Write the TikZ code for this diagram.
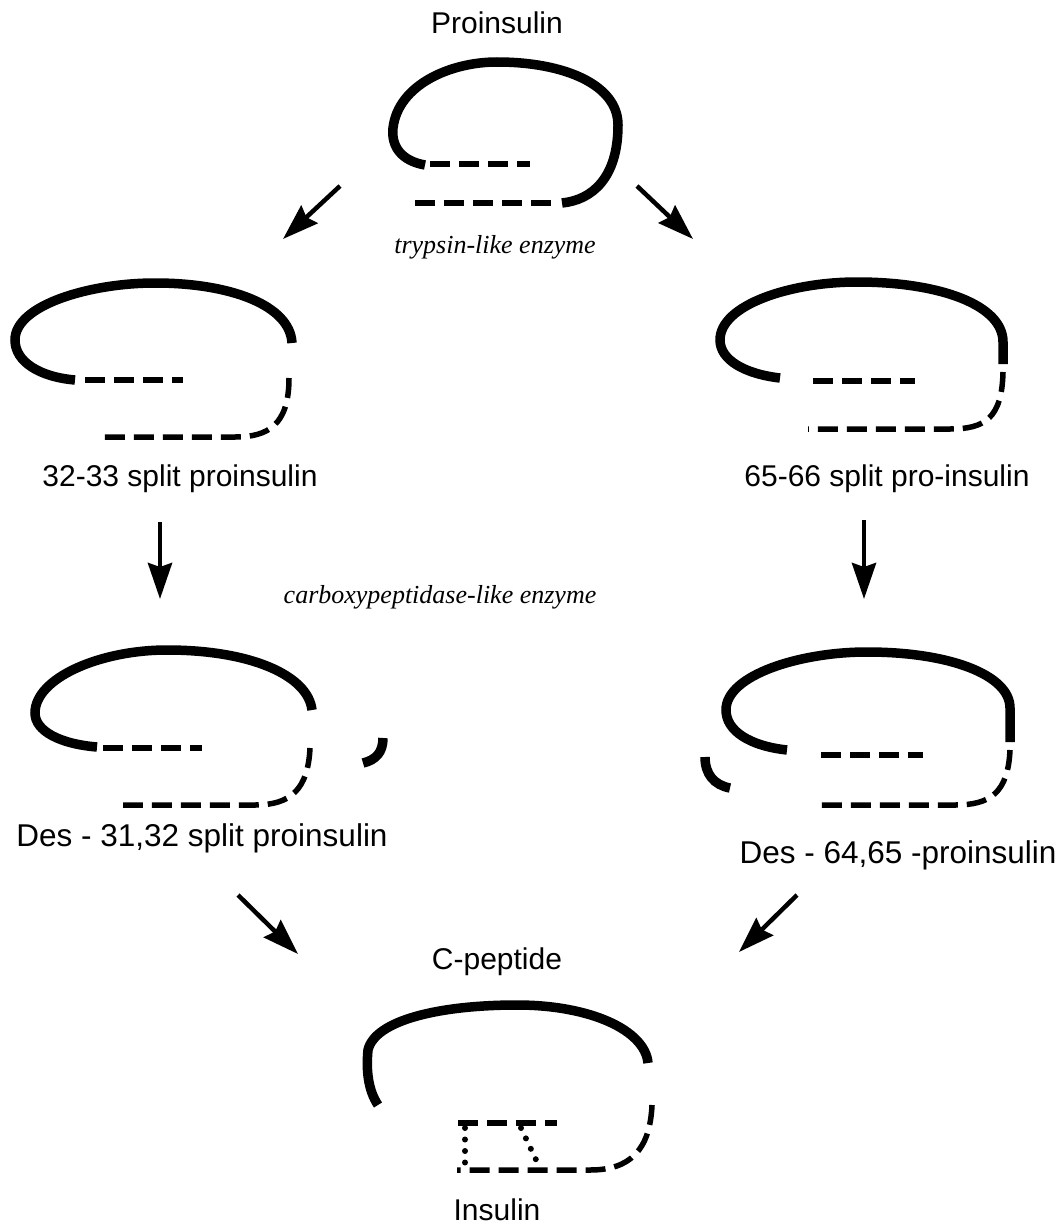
\documentclass[tikz,border=0pt]{standalone}
\usepackage{fontspec}
\setmainfont{Liberation Sans}
\newfontfamily\enzfont{Liberation Serif}
\usetikzlibrary{arrows.meta}
\tikzset{
  chainA/.style={line width=9.5pt, line cap=butt},
  chainB/.style={line width=5.5pt, dash pattern=on 20pt off 9pt},
  fragment/.style={line width=9.5pt, line cap=butt},
  sbond/.style={line width=6pt, line cap=round, dash pattern=on 0pt off 11.5pt},
  flow/.style={line width=4.5pt, -{Stealth[length=36pt,width=24pt,inset=4pt]}},
  lab/.style={font=\fontsize{30}{36}\selectfont, inner sep=0pt},
  deslab/.style={font=\fontsize{31.5}{38}\selectfont, inner sep=0pt},
  enz/.style={font=\enzfont\itshape\fontsize{26}{31}\selectfont, inner sep=0pt}
}
\begin{document}
\begin{tikzpicture}[x=1pt,y=-1pt]
\useasboundingbox (0,0) rectangle (1062,1228);

% labels
\node[lab] (proins) at (497,23) {Proinsulin};
\node[enz] (trypsin) at (495,247) {trypsin-like enzyme};
\node[lab] (split32) at (180,479) {32-33 split proinsulin};
\node[lab] (split65) at (887,479) {65-66 split pro-insulin};
\node[enz] (carboxy) at (440,597) {carboxypeptidase-like enzyme};
\node[deslab] (des31) at (202,838) {Des - 31,32 split proinsulin};
\node[deslab] (des64) at (898,855) {Des - 64,65 -proinsulin};
\node[lab] (cpep) at (497,962) {C-peptide};
\node[lab] (insulin) at (497,1210) {Insulin};

% arrow end points
\coordinate (a1s) at (340,186); \coordinate (a1e) at (283,239);
\coordinate (a2s) at (637,186); \coordinate (a2e) at (693,239);
\coordinate (a3s) at (160,522); \coordinate (a3e) at (160,599);
\coordinate (a4s) at (864,520); \coordinate (a4e) at (864,599);
\coordinate (a5s) at (238,895); \coordinate (a5e) at (298,954);
\coordinate (a6s) at (797,895); \coordinate (a6e) at (739,952);
\draw[flow] (a1s) -- (a1e);
\draw[flow] (a2s) -- (a2e);
\draw[flow] (a3s) -- (a3e);
\draw[flow] (a4s) -- (a4e);
\draw[flow] (a5s) -- (a5e);
\draw[flow] (a6s) -- (a6e);

% --- top: proinsulin
\draw[chainA] (425,165) .. controls (402,161) and (391,147) .. (393,128)
  .. controls (398,85) and (450,62) .. (497,62)
  .. controls (565,62) and (618,85) .. (618,125)
  .. controls (618,178) and (592,200) .. (562,203);
\draw[chainB] (430,164) -- (530,164);
\draw[chainB] (415,203) -- (555,203);

% --- 32-33 split proinsulin
\draw[chainA] (75,380) .. controls (40,377) and (15,362) .. (15,340)
  .. controls (15,305) and (90,283) .. (155,283)
  .. controls (230,283) and (290,305) .. (292,343);
\draw[chainB] (85,380) -- (183,380);
\draw[chainB] (289,378) .. controls (289,425) and (268,437) .. (235,437) -- (103,437);

% --- 65-66 split pro-insulin
\draw[chainA] (780,378) .. controls (745,374) and (720,360) .. (720,340)
  .. controls (720,305) and (790,282) .. (857,282)
  .. controls (940,282) and (1003,305) .. (1003,342) -- (1003,364);
\draw[chainB] (813,381) -- (915,381);
\draw[chainB] (1003,372) .. controls (1002,418) and (985,429) .. (950,429) -- (808,429);

% --- Des-31,32 split proinsulin
\draw[chainA] (97,747) .. controls (60,744) and (35,731) .. (35,713)
  .. controls (35,678) and (100,650) .. (167,650)
  .. controls (250,650) and (308,675) .. (312,710);
\draw[chainB] (103,748) -- (202,748);
\draw[chainB] (310,748) .. controls (308,790) and (290,805) .. (255,805) -- (123,805);
\draw[fragment] (383,738) .. controls (383,752) and (376,760) .. (363,763);

% --- Des-64,65 proinsulin
\draw[chainA] (787,750) .. controls (750,746) and (726,731) .. (726,710)
  .. controls (726,675) and (800,652) .. (867,652)
  .. controls (950,652) and (1010,675) .. (1010,708) -- (1010,742);
\draw[chainB] (821,755) -- (923,755);
\draw[chainB] (1010,750) .. controls (1008,793) and (990,805) .. (955,805) -- (815,805);
\draw[fragment] (705,757) .. controls (705,774) and (714,785) .. (730,788);

% --- insulin + C-peptide
\draw[chainA] (378,1105) .. controls (368,1090) and (366,1070) .. (368,1050)
  .. controls (375,1020) and (440,1005) .. (517,1005)
  .. controls (590,1005) and (645,1030) .. (648,1063);
\draw[chainB] (458,1123) -- (557,1123);
\draw[chainB] (652,1105) .. controls (650,1150) and (630,1170) .. (590,1170) -- (457,1170);
\draw[sbond] (465,1128) -- (465,1166);
\draw[sbond] (521,1128) -- (539,1166);
\end{tikzpicture}
\end{document}
